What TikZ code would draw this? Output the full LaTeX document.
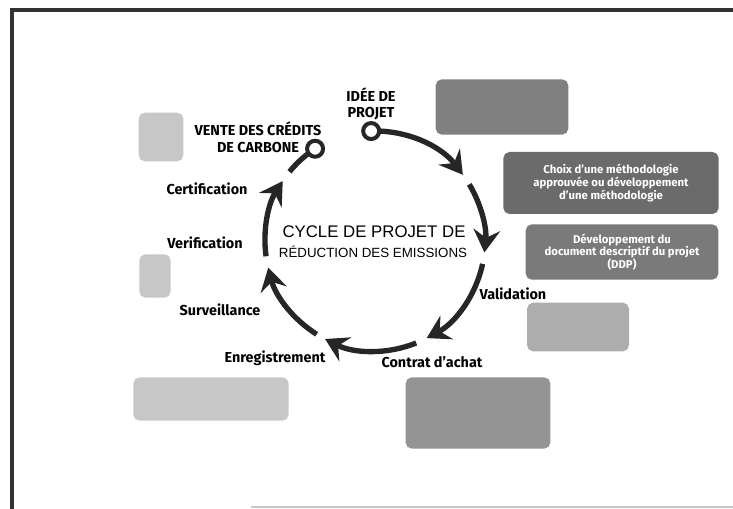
\documentclass[tikz,border=0pt]{standalone}
\usepackage{fontspec}
\setmainfont{Fira Sans}
\newfontfamily\titlefont{Liberation Sans}
\usetikzlibrary{arrows.meta,calc}

\begin{document}
\begin{tikzpicture}[x=0.75pt,y=0.75pt,
    stage/.style={font=\bfseries\fontsize{10.8}{12.5}\selectfont,align=center,inner sep=0pt},
    cyc/.style={line width=4pt,draw=black!85},
    cycarrow/.style={cyc,-{Stealth[length=17pt,width=20pt,inset=6pt]}},
    ball/.style={circle,draw=black!85,line width=3pt,fill=white,minimum size=12pt,inner sep=0pt},
    infobox/.style={rounded corners=4pt,draw=black!#1,line width=1.5pt,fill=black!#1,
      text=white,align=center,font=\bfseries\fontsize{8.5}{9.5}\selectfont,inner sep=2pt}]
    \useasboundingbox (0,0) rectangle (733,509);
    % frame
    \draw[line width=3.6pt,black!80] (12,0) -- (12,499) -- (733,499);
    \draw[line width=1.2pt,gray!45] (251,2) -- (733,2);

    % cycle
    \coordinate (c) at (375,268);
    \node[font=\titlefont\fontsize{12.6}{14}\selectfont] (title) at (374,277) {CYCLE DE PROJET DE};
    \node[font=\titlefont\fontsize{10}{12}\selectfont] (title2) at (373,257) {RÉDUCTION DES EMISSIONS};

    \coordinate (p1) at ($(c)+(92:82.5pt)$);
    \coordinate (p2) at ($(c)+(31:82.5pt)$);
    \coordinate (p3) at ($(c)+(-12:82.5pt)$);
    \coordinate (p4) at ($(c)+(-68:82.5pt)$);
    \coordinate (p5) at ($(c)+(-122:82.5pt)$);
    \coordinate (p6) at ($(c)+(-172:82.5pt)$);
    \coordinate (p7) at ($(c)+(141:82.5pt)$);
    \draw[cycarrow] (p1) arc[start angle=92,end angle=37,radius=82.5pt];
    \draw[cycarrow] (p2) arc[start angle=31,end angle=-6,radius=82.5pt];
    \draw[cycarrow] (p3) arc[start angle=-12,end angle=-62,radius=82.5pt];
    \draw[cycarrow] (p4) arc[start angle=-68,end angle=-117,radius=82.5pt];
    \draw[cycarrow] (p5) arc[start angle=-122,end angle=-166,radius=82.5pt];
    \draw[cycarrow] (p6) arc[start angle=188,end angle=147,radius=82.5pt];
    \draw[cyc] (p7) arc[start angle=141,end angle=125,radius=82.5pt];
    \node[ball] (ideeball) at (p1) {};
    \node[ball] (venteball) at ($(c)+(123:82.5pt)$) {};

    % stages
    \node[stage] (idee) at (371,405) {IDÉE DE\\PROJET};
    \node[stage] (vente) at (258,372) {VENTE DES CRÉDITS\\DE CARBONE};
    \node[stage] (certif) at (207,320) {Certification};
    \node[stage] (verif) at (205,266) {Verification};
    \node[stage] (surv) at (220,199) {Surveillance};
    \node[stage] (enreg) at (275,151) {Enregistrement};
    \node[stage] (contrat) at (432,147) {Contrat d'achat};
    \node[stage] (valid) at (513,215) {Validation};

    % boxes
    \node[infobox=50,minimum width=98pt,minimum height=40pt] (etude) at (502,402) {};
    \node[infobox=58,minimum width=160pt,minimum height=45pt] (methode) at (611,326)
      {Choix d'une méthodologie\\approuvée ou développement\\d'une méthodologie};
    \node[infobox=52,minimum width=143pt,minimum height=40pt] (ddp) at (622,257)
      {Développement du\\document descriptif du projet\\(DDP)};
    \node[infobox=32,minimum width=75pt,minimum height=35pt] (validbox) at (578,182) {};
    \node[infobox=42,minimum width=107pt,minimum height=52pt] (contratbox) at (478,96) {};
    \node[infobox=22,minimum width=115pt,minimum height=31pt] (enregbox) at (211,110) {};
    \node[infobox=22,minimum width=32pt,minimum height=35pt] (ventebox) at (161,372) {};
    \node[infobox=22,minimum width=22pt,minimum height=31pt] (verifbox) at (155,233) {};
\end{tikzpicture}
\end{document}
